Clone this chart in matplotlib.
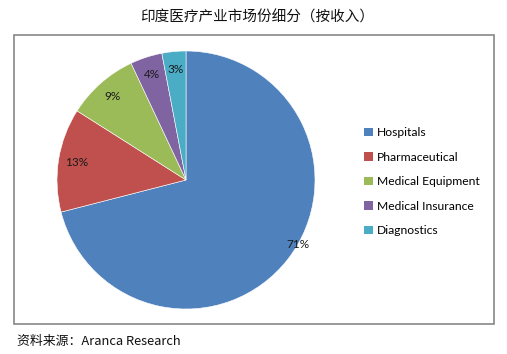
import matplotlib
matplotlib.use("Agg")
import matplotlib.pyplot as plt
import matplotlib.patches as mpatches
import numpy as np

plt.rcParams['font.family'] = ['Lato', 'Noto Sans CJK SC', 'DejaVu Sans']

title = "印度医疗产业市场份细分（按收入）"
source = "资料来源：Aranca Research"
categories = ["Hospitals", "Pharmaceutical", "Medical Equipment", "Medical Insurance", "Diagnostics"]
values = [71, 13, 9, 4, 3]
colors = ["#4F81BD", "#C0504D", "#9BBB59", "#8064A2", "#4BACC6"]

W, H = 507, 354
fig = plt.figure(figsize=(W / 100, H / 100), dpi=100)

# border box
fig.patches.append(mpatches.Rectangle((14 / W, 1 - 324 / H), 480 / W, 289 / H,
                                      transform=fig.transFigure, fill=False,
                                      edgecolor="#878787", linewidth=1.2))

fig.text(257 / W, 1 - 17 / H, title, ha="center", va="center", fontsize=10.5,
         family=['Noto Sans CJK SC', 'DejaVu Sans'], color="#111111")
fig.text(17 / W, 1 - 342 / H, source, ha="left", va="center", fontsize=9.3,
         family=['Noto Sans CJK SC', 'DejaVu Sans'], color="#111111")

ax = fig.add_axes([57 / W, 1 - 309 / H, 258 / W, 258 / H])
wedges, texts, autotexts = ax.pie(values, colors=colors, startangle=90, counterclock=False,
                                  autopct=lambda p: f"{p:.0f}%", pctdistance=0.86,
                                  wedgeprops=dict(edgecolor="white", linewidth=0.4),
                                  textprops=dict(fontsize=8.5, color="#1a1a1a"))
ax.set_xlim(-1, 1)
ax.set_ylim(-1, 1)
ax.set_aspect("equal")
ax.axis("off")
# Excel best-fit position for the largest slice label
ang = np.deg2rad(-30)
autotexts[0].set_position((1.0 * np.cos(ang), 1.0 * np.sin(ang)))

handles = [mpatches.Patch(facecolor=c, edgecolor="none") for c in colors]
fig.legend(handles, categories, loc="upper left", bbox_to_anchor=(358 / W, 1 - 121 / H),
           frameon=False, fontsize=8.7, handlelength=0.7, handleheight=0.7,
           handletextpad=0.4, labelspacing=1.12, borderpad=0)

fig.savefig("out.png", dpi=100, facecolor="white")
